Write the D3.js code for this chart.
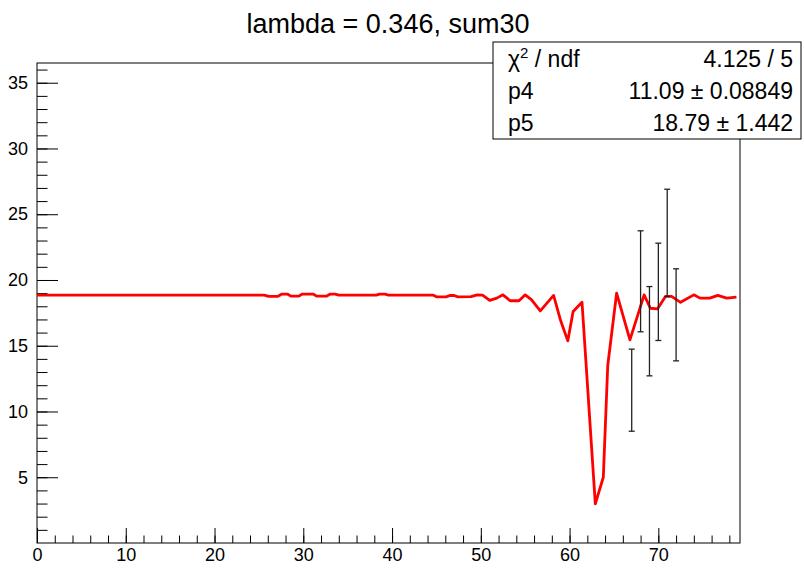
<!DOCTYPE html>
<html lang="en">

<head>
    <meta charset="utf-8">
    <script src='https://d3js.org/d3.v7.min.js'></script>
    <style>
        body { margin: 0; background: #fff; }
        text { font-family: "Liberation Sans", Arial, Helvetica, sans-serif; fill: #000; }
    </style>
</head>

<body>
    <script>
        // data
        const lineX = [0, 25.6, 26.1, 27.1, 27.6, 28.2, 28.6, 29.5, 29.9, 31.1, 31.5, 32.6, 33.0, 33.6, 34.0,
            38.2, 38.6, 39.2, 39.6, 44.6, 45.0, 46.1, 46.5, 47.0, 47.4, 48.9, 49.6, 50.2, 51.0, 51.8,
            52.5, 53.3, 54.3, 55.0, 55.7, 56.7, 58.2, 59.0, 59.8, 60.4, 61.4, 62.9, 63.8, 64.3, 65.3,
            66.8, 68.4, 69.1, 69.9, 70.8, 71.5, 72.5, 74.0, 74.7, 75.8, 76.7, 77.7, 78.8];
        const lineY = [18.85, 18.85, 18.75, 18.75, 18.93, 18.93, 18.77, 18.77, 18.93, 18.93, 18.77, 18.77, 18.92, 18.92, 18.85,
            18.85, 18.93, 18.93, 18.85, 18.85, 18.72, 18.72, 18.82, 18.82, 18.72, 18.74, 18.87, 18.85, 18.45, 18.62,
            18.87, 18.42, 18.42, 18.87, 18.5, 17.65, 18.83, 16.9, 15.37, 17.6, 18.3, 2.97, 5.0, 13.5, 19.0,
            15.45, 18.87, 17.85, 17.8, 18.75, 18.75, 18.3, 18.87, 18.62, 18.62, 18.83, 18.62, 18.7];

        const errX = [67, 68, 69, 70, 71, 72];
        const errLow = [8.5, 16.06, 12.71, 15.4, 18.74, 13.85];
        const errHigh = [14.74, 23.74, 19.5, 22.8, 26.9, 20.85];

        const titleText = "lambda = 0.346, sum30";
        const statNames = ["p4", "p5"];
        const statValues = ["11.09 \u00b1 0.08849", "18.79 \u00b1 1.442"];
        const chi2Value = "4.125 / 5";

        const xMajor = d3.range(0, 80, 10);
        const xMinor = d3.range(0, 80, 2);
        const yMajor = d3.range(5, 40, 5);
        const yMinor = d3.range(1, 37, 1);

        const width = 804, height = 568;
        const frame = { left: 37, top: 63, right: 740, bottom: 543 };

        const x = d3.scaleLinear().domain([0, 79.2]).range([frame.left, frame.right]);
        const y = d3.scaleLinear().domain([0, 36.5]).range([frame.bottom, frame.top]);

        const svg = d3.select("body")
            .append("svg")
            .attr("width", width)
            .attr("height", height);

        // title
        svg.append("text")
            .attr("x", 388)
            .attr("y", 33)
            .attr("text-anchor", "middle")
            .style("font-size", "27px")
            .text(titleText);

        // frame
        svg.append("rect")
            .attr("x", frame.left)
            .attr("y", frame.top)
            .attr("width", frame.right - frame.left)
            .attr("height", frame.bottom - frame.top)
            .attr("fill", "none")
            .attr("stroke", "#000")
            .attr("stroke-width", 1);

        // x axis, ticks pointing inward (minor and major in their own groups)
        svg.append("g")
            .attr("transform", "translate(0," + frame.bottom + ")")
            .call(d3.axisBottom(x).tickValues(xMinor).tickSizeInner(-7.5).tickSizeOuter(0).tickFormat(""));
        svg.append("g")
            .attr("transform", "translate(0," + frame.bottom + ")")
            .call(d3.axisBottom(x).tickValues(xMajor).tickSizeInner(-15).tickSizeOuter(0).tickPadding(5));

        // y axis
        svg.append("g")
            .attr("transform", "translate(" + frame.left + ",0)")
            .call(d3.axisLeft(y).tickValues(yMinor).tickSizeInner(-10.5).tickSizeOuter(0).tickFormat(""));
        svg.append("g")
            .attr("transform", "translate(" + frame.left + ",0)")
            .call(d3.axisLeft(y).tickValues(yMajor).tickSizeInner(-21).tickSizeOuter(0).tickPadding(9));

        svg.selectAll(".domain").remove();
        svg.selectAll(".tick line").attr("stroke", "#000").attr("stroke-width", 1);
        svg.selectAll(".tick text")
            .style("font-size", "18px")
            .style("font-family", "'Liberation Sans', Arial, sans-serif")
            .attr("fill", "#000");

        // red curve
        const line = d3.line()
            .x(function (d) { return x(d[0]); })
            .y(function (d) { return y(d[1]); });

        svg.append("path")
            .datum(d3.zip(lineX, lineY))
            .attr("d", line)
            .attr("fill", "none")
            .attr("stroke", "#ff0000")
            .attr("stroke-width", 2.8)
            .attr("stroke-linejoin", "round");

        // error bars
        const bars = svg.selectAll(".err")
            .data(d3.zip(errX, errLow, errHigh))
            .enter()
            .append("g")
            .attr("class", "err")
            .attr("stroke", "#222")
            .attr("stroke-width", 1.3);

        bars.append("line")
            .attr("x1", function (d) { return x(d[0]); })
            .attr("x2", function (d) { return x(d[0]); })
            .attr("y1", function (d) { return y(d[1]); })
            .attr("y2", function (d) { return y(d[2]); });

        [1, 2].forEach(function (k) {
            bars.append("line")
                .attr("x1", function (d) { return x(d[0]) - 3; })
                .attr("x2", function (d) { return x(d[0]) + 3; })
                .attr("y1", function (d) { return y(d[k]); })
                .attr("y2", function (d) { return y(d[k]); });
        });

        // stats box
        const box = { x: 493, y: 42, w: 308, h: 97 };
        const stats = svg.append("g");
        stats.append("rect")
            .attr("x", box.x)
            .attr("y", box.y)
            .attr("width", box.w)
            .attr("height", box.h)
            .attr("fill", "#fff")
            .attr("stroke", "#000")
            .attr("stroke-width", 1);

        const rowY = [67, 99, 131];
        const chi = stats.append("text")
            .attr("x", 508)
            .attr("y", rowY[0])
            .style("font-size", "23px");
        chi.append("tspan").text("\u03c7");
        chi.append("tspan").attr("dy", -9).style("font-size", "15px").text("2");
        chi.append("tspan").attr("dy", 9).text(" / ndf");

        stats.append("text")
            .attr("x", 793)
            .attr("y", rowY[0])
            .attr("text-anchor", "end")
            .style("font-size", "23px")
            .text(chi2Value);

        statNames.forEach(function (name, i) {
            stats.append("text")
                .attr("x", 508)
                .attr("y", rowY[i + 1])
                .style("font-size", "23px")
                .text(name);
            stats.append("text")
                .attr("x", 793)
                .attr("y", rowY[i + 1])
                .attr("text-anchor", "end")
                .style("font-size", "23px")
                .text(statValues[i]);
        });
    </script>
</body>

</html>
